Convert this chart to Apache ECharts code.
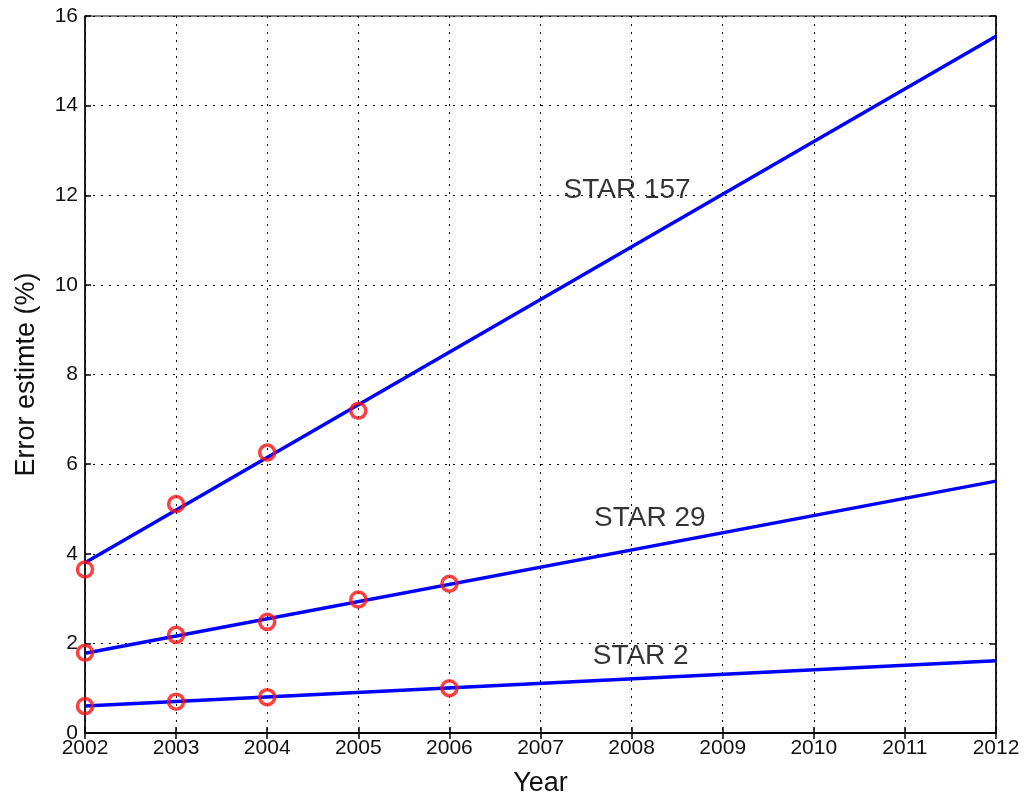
<!DOCTYPE html>
<html>
<head>
<meta charset="utf-8">
<script src="https://cdn.jsdelivr.net/npm/echarts@6/dist/echarts.min.js"></script>
<style>
html,body{margin:0;padding:0;background:#fff;}
#chart{width:1024px;height:796px;}
</style>
</head>
<body>
<div id="chart"></div>
<script>
// Observed points
const obsYears = [2002, 2003, 2004, 2005, 2006];
const star157Obs = [3.65, 5.11, 6.26, 7.19, null];
const star29Obs = [1.79, 2.19, 2.48, 2.98, 3.33];
const star2Obs = [0.60, 0.70, 0.80, null, 1.00];
// Fitted trend lines
const fitYears = [2002, 2012];
const star157Fit = [3.80, 15.55];
const star29Fit = [1.78, 5.62];
const star2Fit = [0.60, 1.61];
// Annotations (data coordinates)
const labelNames = ['STAR 157', 'STAR 29', 'STAR 2'];
const labelX = [2007.95, 2008.2, 2008.1];
const labelY = [12.1, 4.8, 1.72];
// Axis
const xName = 'Year';
const yName = 'Error estimte (%)';

const FONT = 'Liberation Sans, Arial, Helvetica, sans-serif';
const pair = (xs, ys) => xs.map((x, i) => ys[i] == null ? null : [x, ys[i]]).filter(d => d);

const gridLine = {show: true, lineStyle: {color: '#000', width: 1, type: [2, 6]}};

const chart = echarts.init(document.getElementById('chart'));
chart.setOption({
  backgroundColor: '#fff',
  animation: false,
  grid: {left: 85, top: 16, right: 28, bottom: 63, outerBoundsMode: 'none', containLabel: false,
         show: true, borderColor: '#000', borderWidth: 1, backgroundColor: 'transparent'},
  xAxis: [{
    type: 'value', min: 2002, max: 2012, interval: 1,
    name: xName, nameLocation: 'middle', nameGap: 37,
    nameTextStyle: {fontFamily: FONT, fontSize: 27, color: '#111'},
    axisLine: {show: true, onZero: false, lineStyle: {color: '#000', width: 1.5}},
    axisTick: {show: true, inside: true, length: 6, lineStyle: {color: '#000', width: 1.5}},
    axisLabel: {fontFamily: FONT, fontSize: 21, color: '#111', margin: 5, formatter: v => String(v)},
    splitLine: gridLine
  }, {
    type: 'value', min: 2002, max: 2012, interval: 1, position: 'top',
    axisLine: {show: true, lineStyle: {color: '#000', width: 1.5}},
    axisTick: {show: true, inside: true, length: 6, lineStyle: {color: '#000', width: 1.5}},
    axisLabel: {show: false}, splitLine: {show: false}
  }],
  yAxis: [{
    type: 'value', min: 0, max: 16, interval: 2,
    name: yName, nameLocation: 'middle', nameGap: 45, nameRotate: 90,
    nameTextStyle: {fontFamily: FONT, fontSize: 27, color: '#111'},
    axisLine: {show: true, onZero: false, lineStyle: {color: '#000', width: 1.5}},
    axisTick: {show: true, inside: true, length: 6, lineStyle: {color: '#000', width: 1.5}},
    axisLabel: {fontFamily: FONT, fontSize: 21, color: '#111', margin: 7},
    splitLine: gridLine
  }, {
    type: 'value', min: 0, max: 16, interval: 2, position: 'right',
    axisLine: {show: true, lineStyle: {color: '#000', width: 1.5}},
    axisTick: {show: true, inside: true, length: 6, lineStyle: {color: '#000', width: 1.5}},
    axisLabel: {show: false}, splitLine: {show: false}
  }],
  series: [
    ...[star157Fit, star29Fit, star2Fit].map(f => ({
      type: 'line', data: pair(fitYears, f), symbol: 'none', z: 3,
      lineStyle: {color: '#0000ff', width: 3.5}
    })),
    ...[star157Obs, star29Obs, star2Obs].map(o => ({
      type: 'scatter', data: pair(obsYears, o), symbol: 'circle', symbolSize: 15, z: 4,
      itemStyle: {color: 'transparent', borderColor: '#ff1010', borderWidth: 3.5}
    })),
    {
      type: 'scatter', z: 5, symbolSize: 0, silent: true,
      data: labelNames.map((n, i) => ({name: n, value: [labelX[i], labelY[i]]})),
      label: {show: true, position: 'inside', formatter: p => p.name, fontFamily: FONT, fontSize: 28, color: '#000'}
    }
  ]
});
</script>
</body>
</html>
